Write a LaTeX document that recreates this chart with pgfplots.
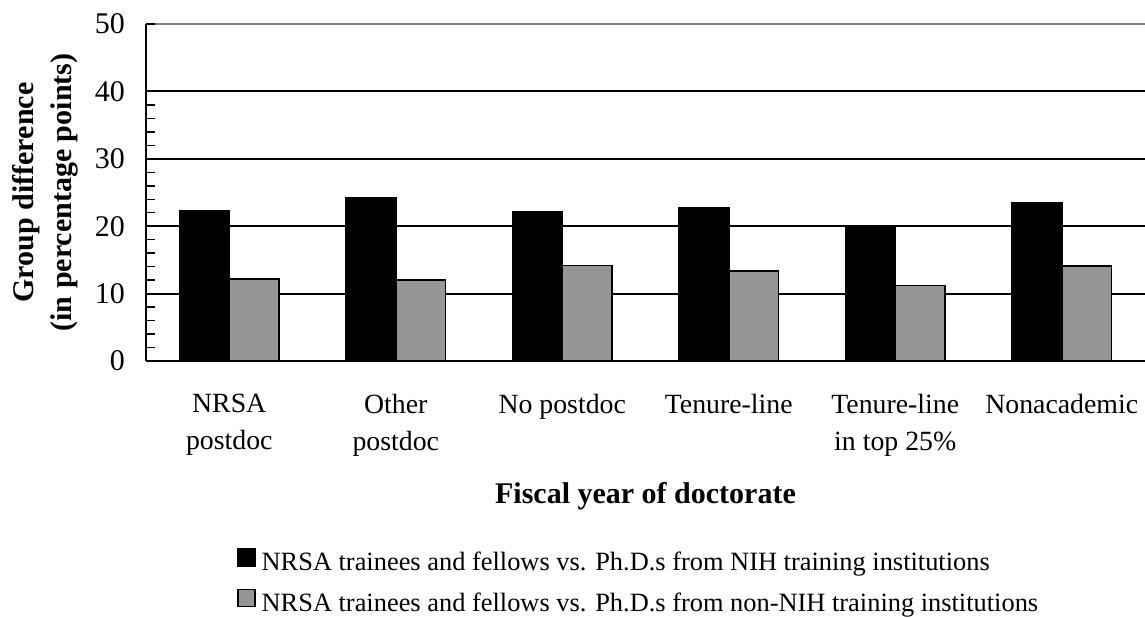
\documentclass[border=0pt]{standalone}
\usepackage{pgfplots}
\pgfplotsset{compat=1.18}
\usepackage{fontspec}
\setmainfont{Liberation Serif}
\definecolor{bargray}{RGB}{150,150,150}
\definecolor{topgray}{RGB}{128,128,128}
\begin{document}
\begin{tikzpicture}
\useasboundingbox (-73pt,-128pt) rectangle (499.5pt,180.5pt);
\begin{axis}[
  scale only axis, width=499.5pt, height=168.5pt,
  at={(0pt,0pt)}, anchor=south west,
  ybar=0pt, bar width=0.3,
  xmin=-0.5, xmax=5.5, ymin=0, ymax=50,
  xtick={0,1,2,3,4,5},
  xticklabels={{NRSA\\postdoc},{Other\\postdoc},{No postdoc},{Tenure-line},{Tenure-line\\in top 25\%},{Nonacademic}},
  xticklabel style={align=center, font=\fontsize{13.9}{18.5}\selectfont, anchor=north, yshift=-13pt},
  x tick style={draw=none},
  ytick={0,10,20,30,40},
  extra y ticks={50},
  extra y tick style={grid style={topgray, line width=1pt}},
  minor y tick num=4,
  ymajorgrids,
  grid style={black, line width=1pt},
  axis x line*=bottom, axis y line*=left,
  axis line style={-, black, line width=1pt},
  xtick align=inside, ytick align=inside, major tick length=4.25pt, minor tick length=4.25pt,
  y tick style={black, line width=0.75pt},
  yticklabel style={font=\fontsize{15}{17}\selectfont, /pgf/number format/assume math mode=true, xshift=-7pt},
  ylabel={Group difference\\(in percentage points)},
  ylabel style={align=center, font=\fontsize{15}{19}\selectfont\bfseries, at={(axis description cs:-0.101,0.5)}, anchor=center},
  xlabel={Fiscal year of doctorate},
  xlabel style={font=\fontsize{15}{18}\selectfont\bfseries, at={(axis description cs:0.5,-0.4214)}, anchor=base},
  legend cell align=left,
  legend style={draw=none, fill=none, at={(axis description cs:0.091,-0.555)}, anchor=north west,
    font=\fontsize{13.2}{16}\selectfont, row sep=6pt, inner sep=0pt,
    nodes={inner sep=1.5pt}},
  legend image code/.code={\draw[#1, line width=0.6pt] (0pt,-1.5pt) rectangle (8.5pt,7pt); \path (10pt,0pt);},
]
\addplot[fill=black, draw=black, line width=0.75pt] coordinates {(0,22.3) (1,24.2) (2,22.2) (3,22.8) (4,20.0) (5,23.5)};
\addplot[fill=bargray, draw=black, line width=0.75pt] coordinates {(0,12.2) (1,12.0) (2,14.2) (3,13.35) (4,11.2) (5,14.1)};
\legend{NRSA trainees and fellows vs. Ph.D.s from NIH training institutions, NRSA trainees and fellows vs. Ph.D.s from non-NIH training institutions}
\end{axis}
\end{tikzpicture}
\end{document}
